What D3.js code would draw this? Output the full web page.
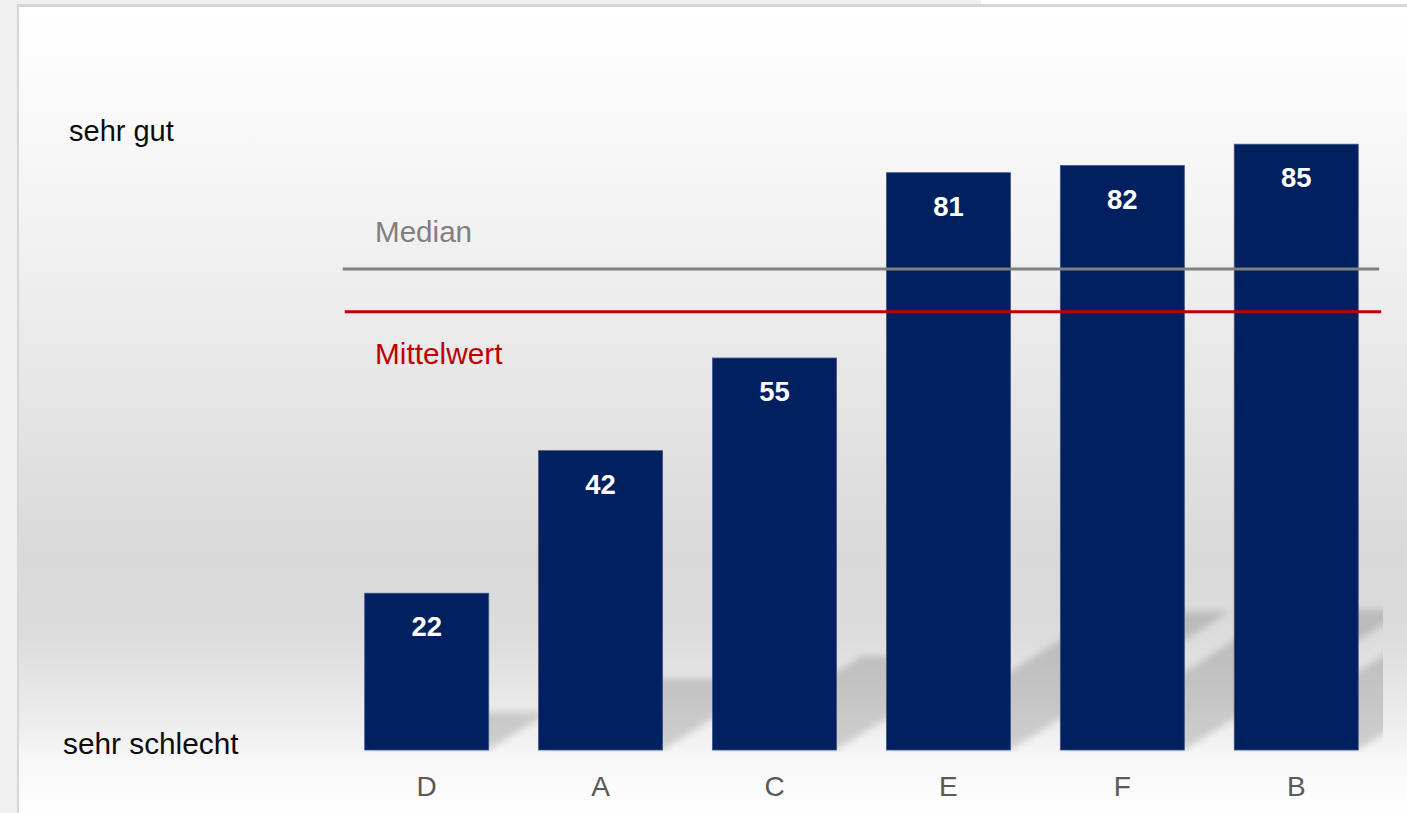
<!DOCTYPE html>
<html>
<head>
<meta charset="utf-8">
<script src="https://cdn.jsdelivr.net/npm/d3@7"></script>
<style>
  html, body { margin: 0; padding: 0; background: #f0f0f0; }
  svg { display: block; }
</style>
</head>
<body>
<svg id="chart" width="1407" height="813"></svg>
<script>
// Ratings per product, sorted ascending
const categories = ["D", "A", "C", "E", "F", "B"];
const scores = [22, 42, 55, 81, 82, 85];

// Reference lines
const medianValue = 67.5;
const meanValue = 61.5;
const refLabels = ["Median", "Mittelwert"];

// Scale end labels
const scaleLabels = ["sehr gut", "sehr schlecht"];

const W = 1407, H = 813;
const svg = d3.select("#chart");
const defs = svg.append("defs");

const x = d3.scaleBand()
  .domain(categories)
  .range([339.75, 1383.2])
  .paddingInner(0.287)
  .paddingOuter(0.1435);

const y = d3.scaleLinear().domain([0, 100]).range([750, 37.3]);

// Panel background: light at top, grey in the middle, bright floor
const bg = defs.append("linearGradient")
  .attr("id", "panelBg").attr("x1", 0).attr("y1", 0).attr("x2", 0).attr("y2", 1);
[[0, "#ffffff"], [0.12, "#fafafa"], [0.36, "#ededed"], [0.68, "#d9d9d9"],
 [0.78, "#dcdcdc"], [0.895, "#eeeeee"], [0.93, "#f7f7f7"], [1, "#fefefe"]]
  .forEach(([o, c]) => bg.append("stop").attr("offset", o).attr("stop-color", c));

// Window frame
svg.append("rect").attr("x", 0).attr("y", 0).attr("width", W).attr("height", H).attr("fill", "#f0f0f0");
svg.append("rect").attr("x", 981).attr("y", 0).attr("width", W - 981).attr("height", 5).attr("fill", "#ffffff");
svg.append("rect").attr("x", 17).attr("y", 4).attr("width", W - 17).attr("height", H - 4).attr("fill", "#d6d6d6");
svg.append("rect").attr("x", 19).attr("y", 7).attr("width", W - 19).attr("height", H - 7).attr("fill", "url(#panelBg)");

// Floor shadows cast towards the upper right
const blur = defs.append("filter").attr("id", "shadowBlur")
  .attr("x", "-20%").attr("y", "-20%").attr("width", "140%").attr("height", "140%");
blur.append("feGaussianBlur").attr("stdDeviation", 3.5);

defs.append("clipPath").attr("id", "plotClip")
  .append("rect").attr("x", 330).attr("y", 0).attr("width", 1383 - 330).attr("height", 752);

const shadowRun = 0.38, shadowRise = 0.24;
const data = categories.map((c, i) => ({ cat: c, v: scores[i] }));

svg.append("g").attr("clip-path", "url(#plotClip)")
  .append("g").attr("filter", "url(#shadowBlur)")
  .selectAll("path").data(data).join("path")
  .attr("d", d => {
    const l = x(d.cat), r = l + x.bandwidth();
    const h = y(0) - y(d.v);
    const dx = h * shadowRun, dy = h * shadowRise;
    const b = y(0);
    return `M${l},${b}L${r},${b}L${r + dx},${b - dy}L${l + dx},${b - dy}Z`;
  })
  .attr("fill", "#000")
  .attr("fill-opacity", 0.15);

// Bars
svg.append("g").selectAll("rect").data(data).join("rect")
  .attr("x", d => x(d.cat))
  .attr("y", d => y(d.v))
  .attr("width", x.bandwidth())
  .attr("height", d => y(0) - y(d.v))
  .attr("fill", "#002060")
  .attr("stroke", "#3d5488")
  .attr("stroke-width", 0.8);

// Value labels inside the bars
svg.append("g").selectAll("text").data(data).join("text")
  .attr("x", d => x(d.cat) + x.bandwidth() / 2)
  .attr("y", d => y(d.v) + 43)
  .attr("text-anchor", "middle")
  .attr("font-family", "'Liberation Sans', Arial, sans-serif")
  .attr("font-weight", "bold")
  .attr("font-size", 27.5)
  .attr("fill", "#ffffff")
  .text(d => d.v);

// Median and mean lines
const [rx0, rx1] = x.range();
svg.append("line")
  .attr("x1", rx0 + 3).attr("x2", rx1 - 4)
  .attr("y1", y(medianValue)).attr("y2", y(medianValue))
  .attr("stroke", "#808080").attr("stroke-width", 3);
svg.append("line")
  .attr("x1", rx0 + 5).attr("x2", rx1 - 2)
  .attr("y1", y(meanValue)).attr("y2", y(meanValue))
  .attr("stroke", "#c00000").attr("stroke-width", 3);

const font = "'Liberation Sans', Arial, sans-serif";
svg.append("text")
  .attr("x", 375).attr("y", y(medianValue) - 27)
  .attr("font-family", font).attr("font-size", 29.6).attr("fill", "#808080")
  .text(refLabels[0]);
svg.append("text")
  .attr("x", 375).attr("y", y(meanValue) + 52)
  .attr("font-family", font).attr("font-size", 29.8).attr("fill", "#c00000")
  .text(refLabels[1]);

// Scale end labels
svg.append("text")
  .attr("x", 69).attr("y", 141)
  .attr("font-family", font).attr("font-size", 29).attr("fill", "#0d0d0d")
  .text(scaleLabels[0]);
svg.append("text")
  .attr("x", 63).attr("y", y(0) + 4)
  .attr("font-family", font).attr("font-size", 29.8).attr("fill", "#0d0d0d")
  .text(scaleLabels[1]);

// Category axis
const xAxis = svg.append("g")
  .attr("transform", `translate(0,${y(0)})`)
  .call(d3.axisBottom(x).tickSize(0).tickPadding(0));
xAxis.select(".domain").remove();
xAxis.selectAll("text")
  .attr("dy", null)
  .attr("y", 46)
  .attr("font-family", font)
  .attr("font-size", 28)
  .attr("fill", "#595959");
</script>
</body>
</html>
